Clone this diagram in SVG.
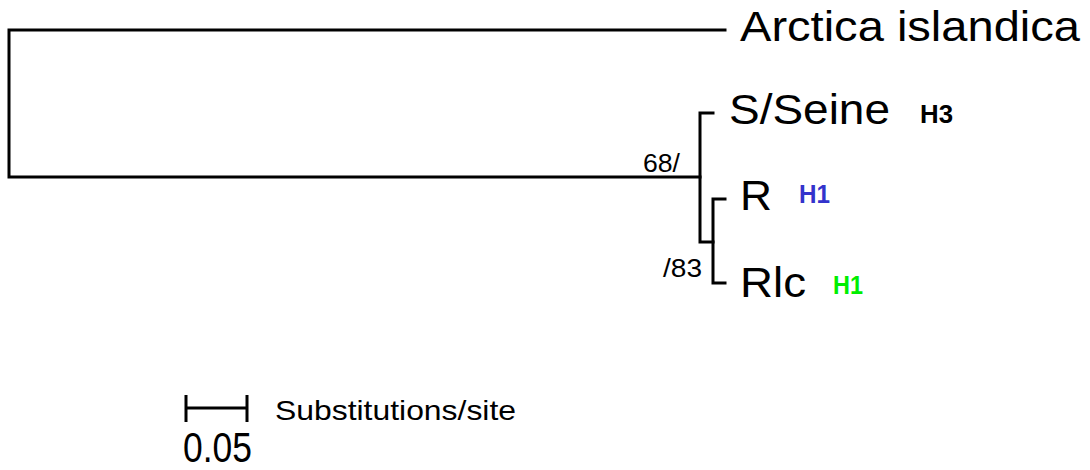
<svg xmlns="http://www.w3.org/2000/svg" width="1090" height="470" viewBox="0 0 1090 470">
<style>
.br{stroke:#000;stroke-width:3;fill:none;stroke-linecap:square}
.tx{font-family:"Liberation Sans",Arial,sans-serif;fill:#000}
.tax{font-size:42px}
.sup{font-size:26px}
.hap{font-size:25px;font-weight:bold}
</style>
<rect width="1090" height="470" fill="#fff"/>
<g id="connectors">
<path class="br" d="M725,30 H9 V177 H700"/>
<path class="br" d="M713,113 H700 V242 H713"/>
<path class="br" d="M725,199 H713 V283 H725"/>
</g>
<g id="arctica"><text class="tx tax" x="740" y="41" textLength="340" lengthAdjust="spacingAndGlyphs">Arctica islandica</text></g>
<g id="seine"><text class="tx tax" x="729" y="124" textLength="161" lengthAdjust="spacingAndGlyphs">S/Seine</text>
<text class="tx hap" x="920" y="123" textLength="33" lengthAdjust="spacingAndGlyphs">H3</text></g>
<g id="r"><text class="tx tax" x="740" y="210" textLength="32" lengthAdjust="spacingAndGlyphs">R</text>
<text class="tx hap" x="799" y="203" style="fill:#3333cc" textLength="31" lengthAdjust="spacingAndGlyphs">H1</text></g>
<g id="rlc"><text class="tx tax" x="740" y="297" textLength="66" lengthAdjust="spacingAndGlyphs">Rlc</text>
<text class="tx hap" x="833" y="294" style="fill:#00ee00" textLength="30" lengthAdjust="spacingAndGlyphs">H1</text></g>
<g id="support">
<text class="tx sup" x="643" y="172" textLength="37" lengthAdjust="spacingAndGlyphs">68/</text>
<text class="tx sup" x="663" y="277" textLength="39" lengthAdjust="spacingAndGlyphs">/83</text>
</g>
<g id="scalebar">
<path class="br" d="M186,395 V422 M186,408 H247 M247,395 V422" style="stroke-linecap:butt"/>
<text class="tx" x="183" y="462" font-size="42" textLength="69" lengthAdjust="spacingAndGlyphs">0.05</text>
<text class="tx" x="275" y="420" font-size="28" textLength="241" lengthAdjust="spacingAndGlyphs">Substitutions/site</text>
</g>
</svg>
